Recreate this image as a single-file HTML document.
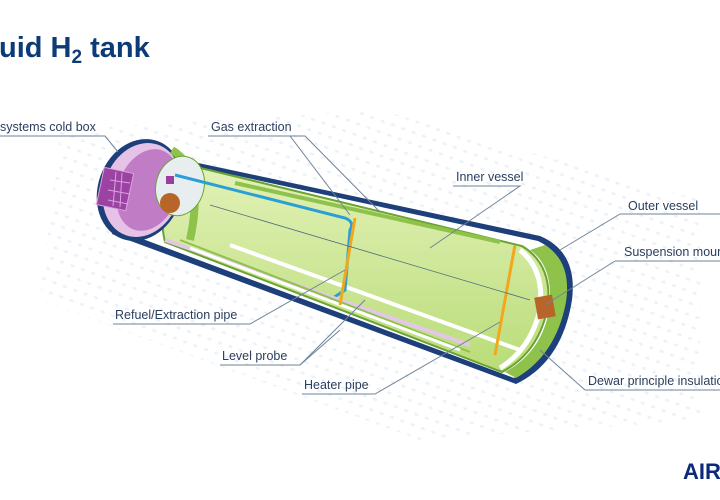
<!DOCTYPE html>
<html><head><meta charset="utf-8"><style>
html,body{margin:0;padding:0;background:#fff;width:720px;height:500px;overflow:hidden}
svg{display:block}
text{font-family:"Liberation Sans",Arial,sans-serif}
.l{font-size:12.5px;fill:#2c3e5e}
.ln{stroke:#6f8398;stroke-width:1;fill:none}
</style></head><body>
<svg width="720" height="500" viewBox="0 0 720 500" xmlns="http://www.w3.org/2000/svg">
<defs>
<pattern id="dots" width="11" height="11" patternUnits="userSpaceOnUse" patternTransform="rotate(20)">
<ellipse cx="5" cy="5" rx="2.2" ry="1.4" fill="#e3ecf5"/>
</pattern>
<linearGradient id="g" x1="0" y1="0" x2="0" y2="1">
<stop offset="0" stop-color="#e3f2b8"/><stop offset="1" stop-color="#b9dc78"/>
</linearGradient>
</defs>
<path d="M60,130 L380,110 L700,200 L700,420 L420,440 L40,300 Z" fill="url(#dots)" opacity="0.7"/>
<text x="-1" y="57" font-size="29" font-weight="bold" fill="#0d3b78">uid H<tspan font-size="19" dy="6">2</tspan><tspan dy="-6"> tank</tspan></text>
<path d="M128,148 L540,236 Q578,252 572,300 Q562,362 516,384 L112,234 Z" fill="#1d3f7a"/>
<path d="M132,153 L538,241 Q570,256 565,300 Q556,356 514,378 L116,229 Z" fill="#fff"/>
<path d="M545,245 Q572,262 566,302 Q556,355 516,378 L505,372 Q545,350 550,303 Q552,265 530,250 Z" fill="#8fc24a"/>
<path d="M180,163 L522,246 Q552,264 548,305 Q540,352 502,372 L165,242 Q155,200 180,163 Z" fill="url(#g)" stroke="#6aa331" stroke-width="2"/>
<path d="M520,250 Q545,270 540,310 Q530,350 500,368" stroke="#fff" stroke-width="5" fill="none"/>
<line x1="230" y1="245" x2="520" y2="350" stroke="#fff" stroke-width="4"/>
<ellipse cx="140" cy="190" rx="42" ry="52" transform="rotate(20 140 190)" fill="#1d3f7a"/>
<ellipse cx="142" cy="190" rx="38" ry="48" transform="rotate(20 142 190)" fill="#e6c3e6"/>
<ellipse cx="148" cy="190" rx="30" ry="42" transform="rotate(20 148 190)" fill="#c07cc4"/>
<rect x="100" y="170" width="30" height="38" fill="#9b42a3" stroke="#d9a6dc" stroke-width="1" transform="rotate(12 115 189)"/>
<path d="M110,180 L130,183 M108,190 L130,194 M108,200 L128,204 M116,172 L113,206 M122,173 L120,207" stroke="#d9a6dc" stroke-width="1"/>
<path d="M172,150 Q205,170 190,240" stroke="#8fc24a" stroke-width="8" fill="none"/>
<ellipse cx="180" cy="186" rx="24" ry="30" fill="#e8eef0" stroke="#6aa331" transform="rotate(15 180 186)"/>
<circle cx="170" cy="203" r="10" fill="#b8652a"/>
<rect x="166" y="176" width="8" height="8" fill="#9a3f9e"/>
<path d="M175,175 L345,218 Q355,222 350,230 L345,290 L330,300" stroke="#2a9fd6" stroke-width="3" fill="none"/>
<path d="M235,183 L500,242" stroke="#8fc24a" stroke-width="4" fill="none"/>
<path d="M165,240 L470,345" stroke="#e4c6e6" stroke-width="4" fill="none"/>
<path d="M180,240 L470,352" stroke="#8fc24a" stroke-width="2" fill="none"/>
<path d="M190,248 L460,350" stroke="#fff" stroke-width="3" fill="none"/>
<line x1="355" y1="218" x2="340" y2="305" stroke="#f2a71c" stroke-width="3"/>
<line x1="515" y1="245" x2="495" y2="355" stroke="#f2a71c" stroke-width="3"/>
<line x1="210" y1="205" x2="530" y2="300" stroke="#4b6a7a" stroke-width="0.8"/>
<rect x="536" y="296" width="18" height="22" fill="#b8652a" transform="rotate(-10 545 307)"/>
<path class="ln" d="M0,136 L105,136 L118,152"/>
<path class="ln" d="M208,136 L290,136 L350,215"/>
<path class="ln" d="M290,136 L305,136 L380,212"/>
<path class="ln" d="M453,186 L520,186 L430,248"/>
<path class="ln" d="M620,214 L720,214"/><path class="ln" d="M620,214 L560,250"/>
<path class="ln" d="M615,261 L720,261"/><path class="ln" d="M615,261 L545,305"/>
<path class="ln" d="M113,324 L250,324 L345,270"/>
<path class="ln" d="M220,365 L300,365 L340,330"/><path class="ln" d="M300,365 L365,300"/>
<path class="ln" d="M302,394 L375,394 L500,322"/>
<path class="ln" d="M585,390 L720,390"/><path class="ln" d="M585,390 L540,350"/>
<text class="l" x="0" y="131">systems cold box</text>
<text class="l" x="211" y="131">Gas extraction</text>
<text class="l" x="456" y="181">Inner vessel</text>
<text class="l" x="628" y="210">Outer vessel</text>
<text class="l" x="624" y="256">Suspension mounting</text>
<text class="l" x="115" y="319">Refuel/Extraction pipe</text>
<text class="l" x="222" y="360">Level probe</text>
<text class="l" x="304" y="389">Heater pipe</text>
<text class="l" x="588" y="385">Dewar principle insulation</text>
<text x="683" y="479" font-size="22" font-weight="bold" fill="#0d2a7a">AIRBUS</text>
</svg>
</body></html>
